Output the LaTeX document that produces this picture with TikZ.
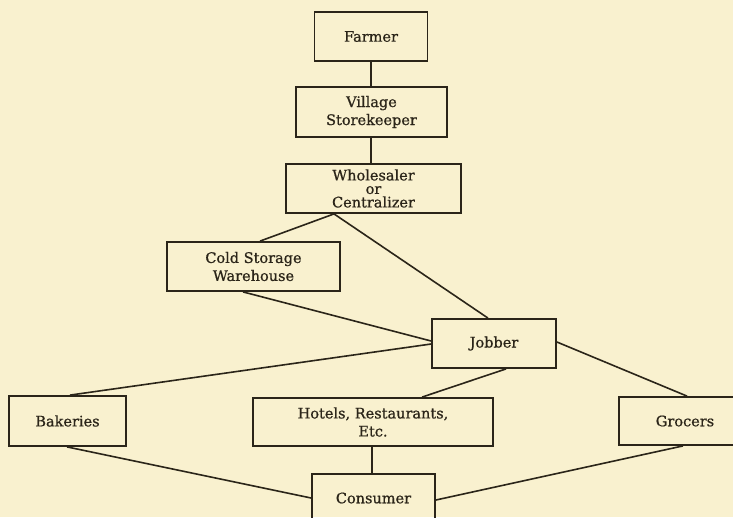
\documentclass[tikz,border=0pt]{standalone}
\usepackage{fontspec}
\setmainfont{DejaVu Serif}
\newfontfamily\inkfont[FakeBold=0.8]{DejaVu Serif}
\usetikzlibrary{calc}
\definecolor{paper}{HTML}{F9F1CF}
\definecolor{ink}{HTML}{2B2519}
\tikzset{
  box/.style={draw=ink, line width=1.8pt, rectangle, align=center, inner sep=0pt,
    font=\inkfont\fontsize{14.5}{18}\selectfont, text=ink},
  link/.style={draw=ink, line width=1.6pt},
}
\begin{document}
\begin{tikzpicture}[x=1pt,y=-1pt]
  \useasboundingbox (0,0) rectangle (733,517);
  \fill[paper] (0,0) rectangle (733,517);
  \clip (0,0) rectangle (733,517);

  % chain of dealers
  \node[box, minimum width=113pt, minimum height=49pt] (farmer)   at (371,36.5)  {Farmer};
  \node[box, minimum width=151pt, minimum height=50pt] (village)  at (371.5,112) {Village\\Storekeeper};
  \node[box, minimum width=175pt, minimum height=49pt,
        font=\inkfont\fontsize{14.5}{13.5}\selectfont] (whole)    at (373.5,188.5) {Wholesaler\\or\\Centralizer};
  \node[box, minimum width=173pt, minimum height=49pt] (cold)     at (253.5,266.5) {Cold Storage\\Warehouse};
  \node[box, minimum width=124pt, minimum height=49pt] (jobber)   at (494,343.5) {Jobber};
  \node[box, minimum width=117pt, minimum height=50pt] (bakeries) at (67.5,421)  {Bakeries};
  \node[box, minimum width=240pt, minimum height=48pt] (hotels)   at (373,422)   {Hotels, Restaurants,\\Etc.};
  \node[box, minimum width=132pt, minimum height=48pt] (grocers)  at (685,421)   {Grocers};
  \node[box, minimum width=123pt, minimum height=48pt] (consumer) at (373.5,498) {Consumer};

  % attachment points on the box edges
  \coordinate (vs) at (371,137);
  \coordinate (wn) at (371,164);
  \coordinate (hs) at (372,446);
  \coordinate (cn) at (372,474);

  % connectors
  \draw[link] (farmer.south) -- (farmer.south |- village.north);
  \draw[link] (vs) -- (wn);
  \draw[link] ($(whole.south)+(-39.5,0)$) -- ($(cold.north)+(6.5,0)$);
  \draw[link] ($(whole.south)+(-39.5,0)$) -- ($(jobber.north)+(-6,0)$);
  \draw[link] ($(cold.south)+(-10.5,0)$) -- ($(jobber.west)+(0,-2.5)$);
  \draw[link] ($(jobber.west)+(0,0.5)$) -- ($(bakeries.north)+(2.5,0)$);
  \draw[link] ($(jobber.south)+(12,0)$) -- ($(hotels.north)+(49,0)$);
  \draw[link] ($(jobber.east)+(0,-1.5)$) -- ($(grocers.north)+(2,0)$);
  \draw[link] (hs) -- (cn);
  \draw[link] ($(bakeries.south)+(-0.5,0)$) -- (consumer.west);
  \draw[link] ($(grocers.south)+(-2,0)$) -- ($(consumer.east)+(0,2)$);
\end{tikzpicture}
\end{document}
